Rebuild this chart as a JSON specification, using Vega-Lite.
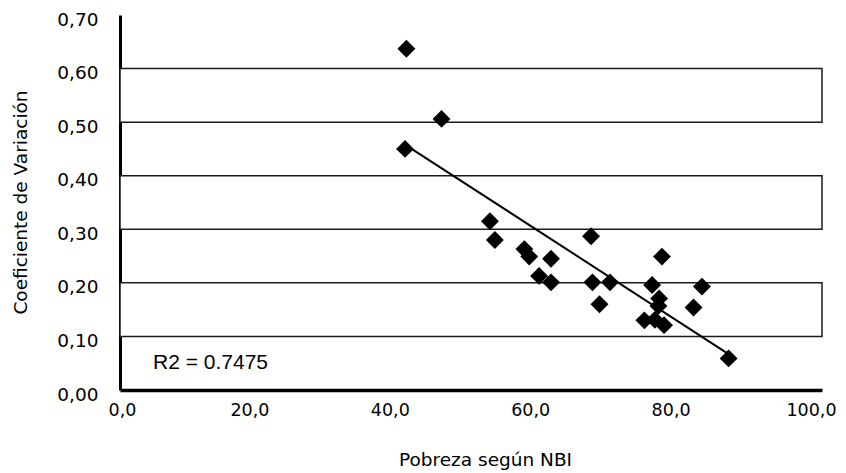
{
  "$schema": "https://vega.github.io/schema/vega-lite/v6.json",
  "width": 702,
  "height": 375,
  "autosize": {"type": "none"},
  "padding": {"left": 120, "top": 15, "right": 24, "bottom": 83},
  "background": "white",
  "config": {"view": {"stroke": null}, "font": "DejaVu Sans"},
  "datasets": {
    "puntos": [
      {"nbi": 40.8, "cv": 0.637},
      {"nbi": 45.8, "cv": 0.506},
      {"nbi": 40.6, "cv": 0.450},
      {"nbi": 52.7, "cv": 0.315},
      {"nbi": 53.4, "cv": 0.280},
      {"nbi": 57.6, "cv": 0.263},
      {"nbi": 58.3, "cv": 0.249},
      {"nbi": 61.4, "cv": 0.245},
      {"nbi": 59.7, "cv": 0.213},
      {"nbi": 61.4, "cv": 0.201},
      {"nbi": 67.1, "cv": 0.287},
      {"nbi": 67.3, "cv": 0.201},
      {"nbi": 69.8, "cv": 0.201},
      {"nbi": 68.3, "cv": 0.160},
      {"nbi": 77.2, "cv": 0.249},
      {"nbi": 75.8, "cv": 0.196},
      {"nbi": 76.8, "cv": 0.171},
      {"nbi": 76.7, "cv": 0.157},
      {"nbi": 74.7, "cv": 0.130},
      {"nbi": 76.2, "cv": 0.131},
      {"nbi": 77.5, "cv": 0.121},
      {"nbi": 82.9, "cv": 0.193},
      {"nbi": 81.7, "cv": 0.154},
      {"nbi": 86.7, "cv": 0.059}
    ],
    "bandas": [
      {"x0": 0, "x1": 100, "y0": 0.1, "y1": 0.2},
      {"x0": 0, "x1": 100, "y0": 0.3, "y1": 0.4},
      {"x0": 0, "x1": 100, "y0": 0.5, "y1": 0.6}
    ],
    "nota": [{"x": 4.7, "y": 0.05, "texto": "R2 = 0.7475"}]
  },
  "layer": [
    {
      "data": {"name": "bandas"},
      "mark": {"type": "rect", "fill": "white", "stroke": "#1a1a1a", "strokeWidth": 1.5},
      "encoding": {
        "x": {
          "field": "x0", "type": "quantitative",
          "scale": {"domain": [0, 100], "nice": false, "zero": true},
          "axis": {
            "title": "Pobreza según NBI",
            "values": [0, 20, 40, 60, 80, 100],
            "labelExpr": "replace(format(datum.value, '.1f'), '.', ',')",
            "grid": false, "ticks": false,
            "domainColor": "black", "domainWidth": 3.5,
            "labelFont": "DejaVu Sans", "labelFontSize": 17.5, "labelColor": "black",
            "labelPadding": 11,
            "labelOffset": {"condition": {"test": "datum.value === 0", "value": 2}, "value": -11},
            "labelFlush": false,
            "titleFont": "DejaVu Sans", "titleFontSize": 18.5, "titleFontWeight": "normal", "titleColor": "black",
            "titleX": 365, "titleY": 69, "titleBaseline": "middle", "titleAlign": "center"
          }
        },
        "x2": {"field": "x1"},
        "y": {
          "field": "y0", "type": "quantitative",
          "scale": {"domain": [0, 0.7], "nice": false},
          "axis": {
            "title": "Coeficiente de Variación",
            "values": [0, 0.1, 0.2, 0.3, 0.4, 0.5, 0.6, 0.7],
            "labelExpr": "replace(format(datum.value, '.2f'), '.', ',')",
            "grid": false, "ticks": false,
            "domainColor": "black", "domainWidth": 3,
            "labelFont": "DejaVu Sans", "labelFontSize": 18.5, "labelColor": "black",
            "labelPadding": 22, "labelOffset": 4, "labelFlush": false,
            "titleFont": "DejaVu Sans", "titleFontSize": 18.5, "titleFontWeight": "normal", "titleColor": "black",
            "titleX": -100, "titleY": 187, "titleAngle": -90,
            "titleBaseline": "middle", "titleAlign": "center"
          }
        },
        "y2": {"field": "y1"}
      }
    },
    {
      "data": {"name": "puntos"},
      "mark": {"type": "point", "shape": "diamond", "filled": true, "color": "black", "opacity": 1, "size": 320},
      "encoding": {
        "x": {"field": "nbi", "type": "quantitative"},
        "y": {"field": "cv", "type": "quantitative"}
      }
    },
    {
      "data": {"name": "puntos"},
      "transform": [{"regression": "cv", "on": "nbi"}],
      "mark": {"type": "line", "color": "black", "strokeWidth": 2},
      "encoding": {
        "x": {"field": "nbi", "type": "quantitative"},
        "y": {"field": "cv", "type": "quantitative"}
      }
    },
    {
      "data": {"name": "nota"},
      "mark": {"type": "text", "align": "left", "baseline": "middle", "font": "Liberation Sans", "fontSize": 21, "color": "black"},
      "encoding": {
        "x": {"field": "x", "type": "quantitative"},
        "y": {"field": "y", "type": "quantitative"},
        "text": {"field": "texto"}
      }
    }
  ]
}
